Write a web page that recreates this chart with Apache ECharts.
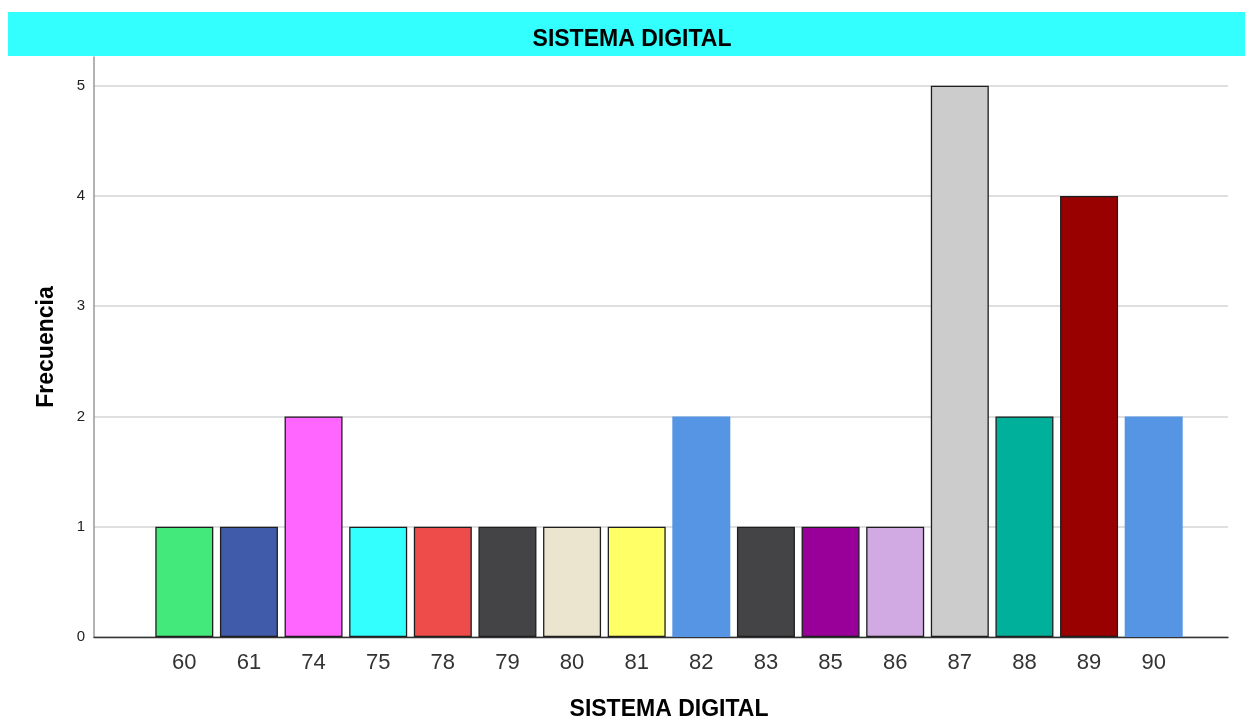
<!DOCTYPE html>
<html><head><meta charset="utf-8">
<script src="https://cdn.jsdelivr.net/npm/echarts@6/dist/echarts.min.js"></script>
<style>html,body{margin:0;padding:0;background:#fff}#c{width:1245px;height:718px}</style>
</head><body><div id="c"></div>
<script>
const categories = ['60','61','74','75','78','79','80','81','82','83','85','86','87','88','89','90'];
const frequencies = [1,1,2,1,1,1,1,1,2,1,1,1,5,2,4,2];
const yTicks = [0,1,2,3,4,5];
const barColors = ['#43E97B','#3F5BA9','#FF66FF','#33FFFF','#EE4B4B','#444446','#EBE4CF','#FFFF66','#5595E4','#444446','#990099','#D1AAE3','#CCCCCC','#00B09B','#990000','#5595E4'];
const noBorder = ['82','90'];

const chart = echarts.init(document.getElementById('c'));
const yMax = 5.26;
const data = frequencies.map((v,i)=>({
  value: v,
  itemStyle: {
    color: barColors[i],
    borderColor: noBorder.includes(categories[i]) ? barColors[i] : '#1e1e1e',
    borderWidth: noBorder.includes(categories[i]) ? 0 : 1.3
  }
}));
chart.setOption({
  animation:false,
  backgroundColor:'#fff',
  graphic:[{type:'rect', left:8, top:12, shape:{width:1237,height:44}, style:{fill:'#33FFFF'}, z:-10}],
  title:{text:'SISTEMA DIGITAL', left:627, top:23, textAlign:'center',
    textStyle:{fontFamily:'Liberation Sans', fontSize:23, fontWeight:'bold', color:'#000'}},
  grid:[
    {left:94, right:17, top:57, bottom:81, outerBoundsMode:'none', containLabel:false},
    {left:152, right:59, top:57, bottom:81, outerBoundsMode:'none', containLabel:false}
  ],
  xAxis:[
    {type:'value', gridIndex:0, min:0, max:1, axisLabel:{show:false}, axisTick:{show:false}, splitLine:{show:false},
     axisLine:{show:true, lineStyle:{color:'#333', width:1.3}},
     name:'SISTEMA DIGITAL', nameLocation:'middle', nameGap:61,
     nameTextStyle:{fontFamily:'Liberation Sans', fontSize:23, fontWeight:'bold', color:'#000', padding:[0,0,0,16]}},
    {type:'category', gridIndex:1, data:categories, axisLine:{show:false}, axisTick:{show:false},
     axisLabel:{fontFamily:'Liberation Sans', fontSize:22, color:'#333', margin:15}}
  ],
  yAxis:[
    {type:'value', gridIndex:0, min:yTicks[0], max:yMax, interval:1,
     axisLine:{show:true, lineStyle:{color:'#999', width:1.5}}, axisTick:{show:false},
     axisLabel:{fontFamily:'Liberation Sans', fontSize:15, color:'#222', margin:9, showMaxLabel:false,
       formatter:v=> yTicks.includes(v) ? String(v) : ''},
     splitLine:{show:true, showMaxLine:false, lineStyle:{color:'#d4d4d4', width:1.5}},
     name:'Frecuencia', nameLocation:'middle', nameGap:36, nameRotate:90,
     nameTextStyle:{fontFamily:'Liberation Sans', fontSize:23, fontWeight:'bold', color:'#000'}},
    {type:'value', gridIndex:1, min:0, max:yMax, show:false, splitLine:{show:false}}
  ],
  series:[{type:'bar', xAxisIndex:1, yAxisIndex:1, data:data, barWidth:58, z:3}]
});
</script></body></html>
